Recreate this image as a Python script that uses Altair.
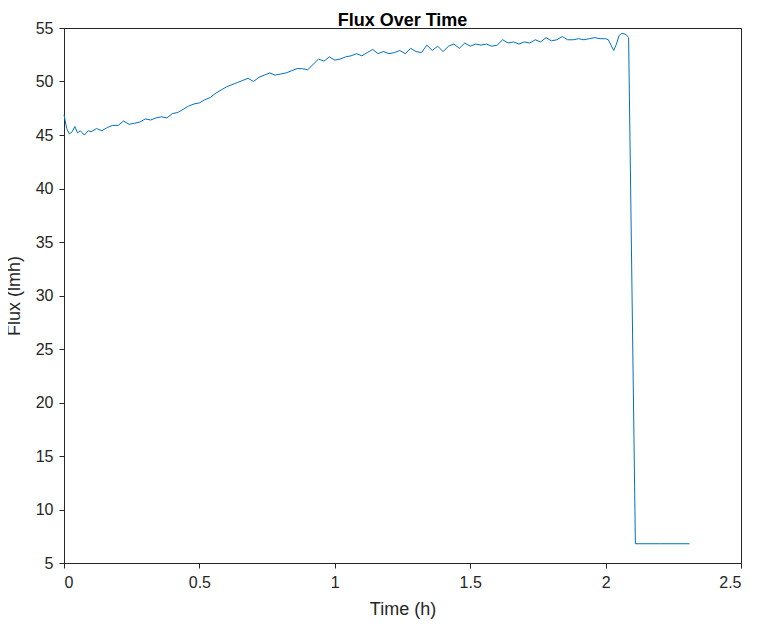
import altair as alt
import pandas as pd

time_h = [0,0.01,0.02,0.03,0.04,0.05,0.06,0.075,0.09,0.1,0.12,0.14,0.16,0.18,0.2,0.22,0.24,0.26,0.28,0.3,
          0.32,0.34,0.36,0.38,0.4,0.42,0.44,0.46,0.48,0.5,0.52,0.54,0.56,0.58,0.6,0.62,0.64,0.66,0.68,0.7,
          0.72,0.74,0.76,0.78,0.8,0.82,0.84,0.86,0.88,0.9,0.92,0.94,0.96,0.98,1.0,1.02,1.04,1.06,1.08,1.1,
          1.12,1.14,1.16,1.18,1.2,1.22,1.24,1.26,1.28,1.3,1.32,1.34,1.36,1.38,1.4,1.42,1.44,1.46,1.48,1.5,
          1.52,1.54,1.56,1.58,1.6,1.62,1.64,1.66,1.68,1.7,1.72,1.74,1.76,1.78,1.8,1.82,1.84,1.86,1.88,1.9,
          1.92,1.94,1.96,1.98,2.0,2.01,2.02,2.03,2.04,2.05,2.06,2.075,2.085,2.11,2.2,2.31]
flux = [46.9,45.6,45.1,45.3,45.8,45.2,45.4,45.0,45.4,45.3,45.6,45.4,45.7,45.9,45.9,46.3,46.0,46.1,46.2,46.5,
        46.4,46.6,46.7,46.6,47.0,47.1,47.4,47.7,47.9,48.0,48.3,48.5,48.9,49.2,49.5,49.7,49.9,50.1,50.3,50.0,
        50.4,50.6,50.8,50.6,50.7,50.8,51.0,51.2,51.2,51.1,51.6,52.1,51.9,52.3,52.0,52.1,52.3,52.4,52.6,52.4,
        52.7,53.0,52.6,52.8,52.6,52.7,52.9,52.6,53.1,52.8,52.7,53.4,52.9,53.3,52.8,53.3,53.5,53.1,53.6,53.3,
        53.5,53.4,53.5,53.3,53.4,53.9,53.6,53.7,53.5,53.7,53.6,53.9,53.7,54.1,53.8,53.9,54.2,53.9,53.9,54.0,
        53.9,54.0,54.1,54.0,54.0,53.9,53.4,52.9,53.5,54.3,54.5,54.4,54.1,6.8,6.8,6.8]

df = pd.DataFrame({"t": time_h, "f": flux})
font = "Liberation Sans"

chart = alt.Chart(df).mark_line(color="#0072BD", strokeWidth=1).encode(
    x=alt.X("t:Q", title="Time (h)", scale=alt.Scale(domain=[0, 2.5], nice=False),
            axis=alt.Axis(values=[0, 0.5, 1, 1.5, 2, 2.5], format="~g", labelPadding=6, titlePadding=10)),
    y=alt.Y("f:Q", title="Flux (lmh)", scale=alt.Scale(domain=[5, 55], nice=False),
            axis=alt.Axis(values=list(range(5, 56, 5)), labelPadding=6, titlePadding=12)),
).properties(
    width=677, height=535,
    title=alt.TitleParams("Flux Over Time", font=font, fontSize=18, fontWeight="bold", color="black",
                          offset=0, dy=10),
    autosize=alt.AutoSizeParams(type="none"),
    padding={"left": 56, "top": 20, "right": 9, "bottom": 59},
).configure_view(stroke="#262626", strokeWidth=1).configure_axis(
    grid=False, domainColor="#262626", tickColor="#262626", tickSize=5,
    labelFont=font, labelFontSize=16, labelColor="#262626",
    titleFont=font, titleFontSize=18, titleFontWeight="normal", titleColor="#262626",
)

chart.save("out.html", embed_options={"renderer": "svg", "actions": False})
